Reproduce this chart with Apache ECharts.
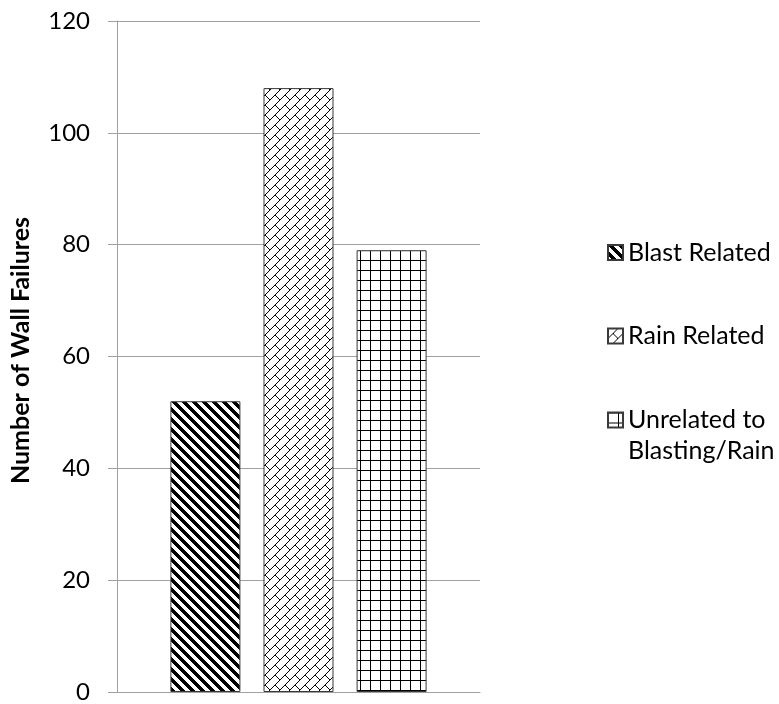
<!DOCTYPE html>
<html>
<head>
<meta charset="utf-8">
<script src="https://cdn.jsdelivr.net/npm/echarts@6/dist/echarts.min.js"></script>
<style>html,body{margin:0;padding:0;background:#fff}#c{width:779px;height:704px}</style>
</head>
<body>
<div id="c"></div>
<script>
const categories = [''];
const seriesNames = ['Blast Related', 'Rain Related', 'Unrelated to\nBlasting/Rain'];
const blastValues = [52];
const rainValues = [108];
const unrelatedValues = [79];
const yTicks = [0, 20, 40, 60, 80, 100, 120];

function makePattern(bitFn) {
  const size = 10;
  const cv = document.createElement('canvas');
  cv.width = size; cv.height = size;
  const ctx = cv.getContext('2d');
  const img = ctx.createImageData(size, size);
  for (let y = 0; y < size; y++) {
    for (let x = 0; x < size; x++) {
      const on = bitFn(x, y);
      const i = (y * size + x) * 4;
      const v = on ? 0 : 255;
      img.data[i] = v; img.data[i + 1] = v; img.data[i + 2] = v; img.data[i + 3] = 255;
    }
  }
  ctx.putImageData(img, 0, 0);
  return { image: cv, repeat: 'repeat' };
}
const blastPat = makePattern((x, y) => ((x - y) % 10 + 10) % 10 < 5);
const rainPat = makePattern((x, y) => (x + y) % 10 === 9 || (x === y && x >= 5));
const gridPat = makePattern((x, y) => x === 0 || y === 0);

const font = 'Lato';
const chart = echarts.init(document.getElementById('c'));
const itemBorder = { borderColor: '#3a3a3a', borderWidth: 1 };
const legendBase = {
  orient: 'vertical', left: 607, padding: 0, itemWidth: 15, itemHeight: 15,
  icon: 'rect',
  formatter: function (name) { return name.indexOf('\n') >= 0 ? ' \n' + name : name; },
  textStyle: { fontFamily: font, fontSize: 25, color: '#000', lineHeight: 31 }
};
chart.setOption({
  animation: false,
  backgroundColor: '#fff',
  grid: { left: 117, right: 299, top: 21, bottom: 11, containLabel: false },
  xAxis: {
    type: 'category', data: categories,
    axisLine: { show: true, lineStyle: { color: '#a0a0a0', width: 1 } },
    axisTick: { show: false }, axisLabel: { show: false }
  },
  yAxis: {
    type: 'value', min: yTicks[0], max: yTicks[yTicks.length - 1], interval: 20,
    name: 'Number of Wall Failures', nameLocation: 'middle', nameGap: 84,
    nameTextStyle: { fontFamily: font, fontSize: 25, fontWeight: 'bold', color: '#000', padding: [0, 0, 0, 12] },
    axisLine: { show: true, lineStyle: { color: '#a0a0a0', width: 1 } },
    axisTick: { show: true, length: 9, lineStyle: { color: '#a0a0a0' } },
    splitLine: { show: true, lineStyle: { color: '#a0a0a0', width: 1 } },
    axisLabel: { fontFamily: font, fontSize: 24, color: '#000', margin: 27 }
  },
  legend: [
    Object.assign({}, legendBase, { top: 237, data: [seriesNames[0]] }),
    Object.assign({}, legendBase, { top: 320.5, data: [seriesNames[1]] }),
    Object.assign({}, legendBase, { top: 373.5, data: [seriesNames[2]] })
  ],
  series: [
    { type: 'bar', name: seriesNames[0], data: blastValues, barWidth: 70, barGap: '33%',
      itemStyle: Object.assign({ color: blastPat }, itemBorder) },
    { type: 'bar', name: seriesNames[1], data: rainValues, barWidth: 70, barGap: '33%',
      itemStyle: Object.assign({ color: rainPat }, itemBorder) },
    { type: 'bar', name: seriesNames[2], data: unrelatedValues, barWidth: 70, barGap: '33%',
      itemStyle: Object.assign({ color: gridPat }, itemBorder) }
  ]
});
</script>
</body>
</html>
